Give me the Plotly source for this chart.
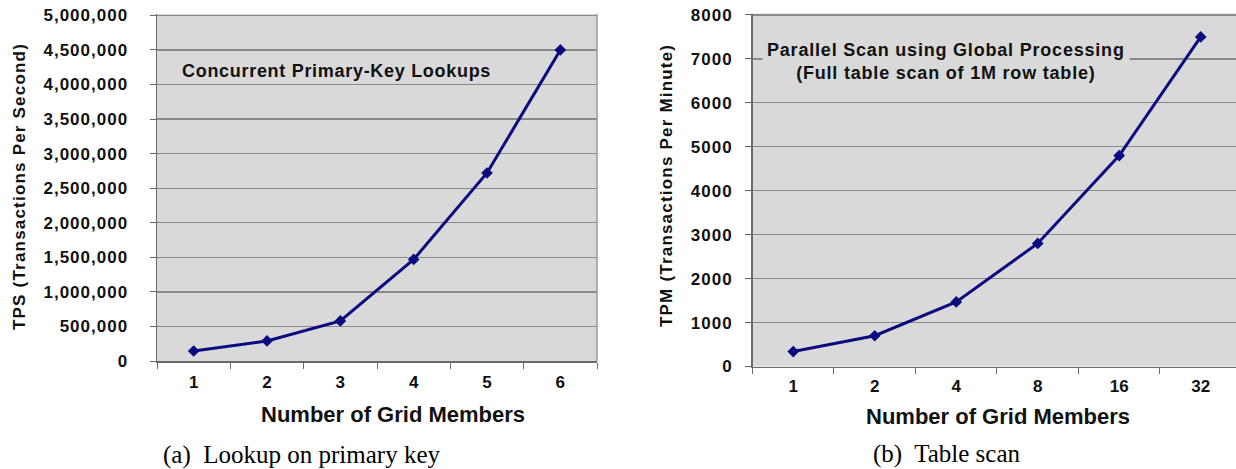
import plotly.graph_objects as go

# ---- data ----
lookup_members = ["1", "2", "3", "4", "5", "6"]
lookup_tps = [145000, 290000, 580000, 1470000, 2720000, 4500000]

scan_members = ["1", "2", "4", "8", "16", "32"]
scan_tpm = [340, 700, 1470, 2800, 4800, 7500]

tps_ticks = [0, 500000, 1000000, 1500000, 2000000, 2500000, 3000000, 3500000, 4000000, 4500000, 5000000]
tps_labels = ["0", "500,000", "1,000,000", "1,500,000", "2,000,000", "2,500,000",
              "3,000,000", "3,500,000", "4,000,000", "4,500,000", "5,000,000"]
tpm_ticks = [0, 1000, 2000, 3000, 4000, 5000, 6000, 7000, 8000]
tpm_labels = ["0", "1000", "2000", "3000", "4000", "5000", "6000", "7000", "8000"]

left_y_title = "TPS (Transactions Per Second)"
right_y_title = "TPM (Transactions Per Minute)"
x_title = "Number of Grid Members"
left_note = "Concurrent Primary-Key Lookups"
right_note = ["Parallel Scan using Global Processing", "(Full table scan of 1M row table)"]
captions = ["(a)&nbsp; Lookup on primary key", "(b)&nbsp; Table scan"]

# ---- style ----
W, H = 1236, 469
SANS = "Liberation Sans, Arial, sans-serif"
SERIF = "Liberation Serif, Times New Roman, serif"
PLOT_BG = "#d9d9d9"
GRID = "#8a8a8a"
AXIS = "#6a6a6a"
LINE = "#0b0b80"
TXT = "#111111"


def spaced(s, ls):
    return f'<span style="letter-spacing:{ls}px">{s}</span>'


def px(x):
    return x / W


def py(y):
    return 1 - y / H


fig = go.Figure()

fig.add_trace(go.Scatter(
    x=lookup_members, y=lookup_tps, mode="lines+markers",
    line=dict(color=LINE, width=3),
    marker=dict(symbol="diamond", size=9, color=LINE),
    xaxis="x", yaxis="y", showlegend=False))

fig.add_trace(go.Scatter(
    x=scan_members, y=scan_tpm, mode="lines+markers",
    line=dict(color=LINE, width=3),
    marker=dict(symbol="diamond", size=9, color=LINE),
    xaxis="x2", yaxis="y2", showlegend=False))

tickfont = dict(family=SANS, size=17, color=TXT, weight="bold")

common_x = dict(type="category", showgrid=False, showline=True, linecolor=AXIS, linewidth=1.5,
                ticks="outside", tickson="boundaries", ticklen=6, tickcolor=AXIS, tickwidth=1,
                tickfont=tickfont, zeroline=False, fixedrange=True, automargin=False)
common_y = dict(showgrid=True, gridcolor=GRID, gridwidth=1.3, showline=True, linecolor=AXIS,
                linewidth=1.5, ticks="outside", ticklen=6, tickcolor=AXIS, tickwidth=1,
                tickfont=tickfont, zeroline=False, fixedrange=True, automargin=False,
                ticklabeloverflow="allow")

# a hair of headroom so the top gridline is drawn inside the plot area
pad = 1.004
fig.update_layout(
    width=W, height=H,
    margin=dict(l=0, r=0, t=0, b=0, autoexpand=False),
    paper_bgcolor="white",
    plot_bgcolor=PLOT_BG,
    hovermode=False,
    xaxis=dict(domain=[px(157), px(597)], range=[-0.5, 5.5], anchor="y",
               ticklabelstandoff=5, **common_x),
    yaxis=dict(domain=[py(361), py(14)], range=[0, max(tps_ticks) * pad], anchor="x",
               tickvals=tps_ticks, ticktext=[spaced(t, 1.0) for t in tps_labels],
               ticklabelstandoff=18, **common_y),
    xaxis2=dict(domain=[px(752.5), 1.0], range=[-0.5, 5.433], anchor="y2",
                ticklabelstandoff=4, **common_x),
    yaxis2=dict(domain=[py(366.5), py(13.5)], range=[0, max(tpm_ticks) * pad], anchor="x2",
                tickvals=tpm_ticks, ticktext=[spaced(t, 1.0) for t in tpm_labels],
                ticklabelstandoff=9, **common_y),
)

# right border of left plot area
fig.add_shape(type="line", xref="x domain", yref="y domain", x0=1, x1=1, y0=0, y1=1,
              line=dict(color="#9a9a9a", width=1.5))

ann = []
# axis titles
ann.append(dict(text=spaced(f"<b>{left_y_title}</b>", 1.2), x=px(20), y=py(187), textangle=-90,
                font=dict(family=SANS, size=17, color=TXT)))
ann.append(dict(text=spaced(f"<b>{right_y_title}</b>", 1.2), x=px(666), y=py(186), textangle=-90,
                font=dict(family=SANS, size=17, color=TXT)))
ann.append(dict(text=f"<b>{x_title}</b>", x=px(393), y=py(414),
                font=dict(family=SANS, size=22, color=TXT)))
ann.append(dict(text=f"<b>{x_title}</b>", x=px(998), y=py(416),
                font=dict(family=SANS, size=22, color=TXT)))
# notes inside plots
ann.append(dict(text=spaced(f"<b>{left_note}</b>", 0.7), x=px(336), y=py(71),
                font=dict(family=SANS, size=18, color=TXT)))
ann.append(dict(text=spaced(f"<b>{right_note[0]}</b>", 0.8) + "<br>" + spaced(f"<b>{right_note[1]}</b>", 0.8),
                x=px(946), y=py(61), bgcolor=PLOT_BG, borderpad=4,
                font=dict(family=SANS, size=18, color=TXT)))
# captions
ann.append(dict(text=captions[0], x=px(302), y=py(455),
                font=dict(family=SERIF, size=25, color="black")))
ann.append(dict(text=captions[1], x=px(947), y=py(454),
                font=dict(family=SERIF, size=25, color="black")))

for a in ann:
    a.update(xref="paper", yref="paper", showarrow=False, xanchor="center", yanchor="middle")
fig.update_layout(annotations=ann)

# remove the default 8px page margin so the figure fills the window exactly
fig.write_html("out.html", config={"displayModeBar": False, "staticPlot": True},
               post_script="document.body.style.margin='0';")
